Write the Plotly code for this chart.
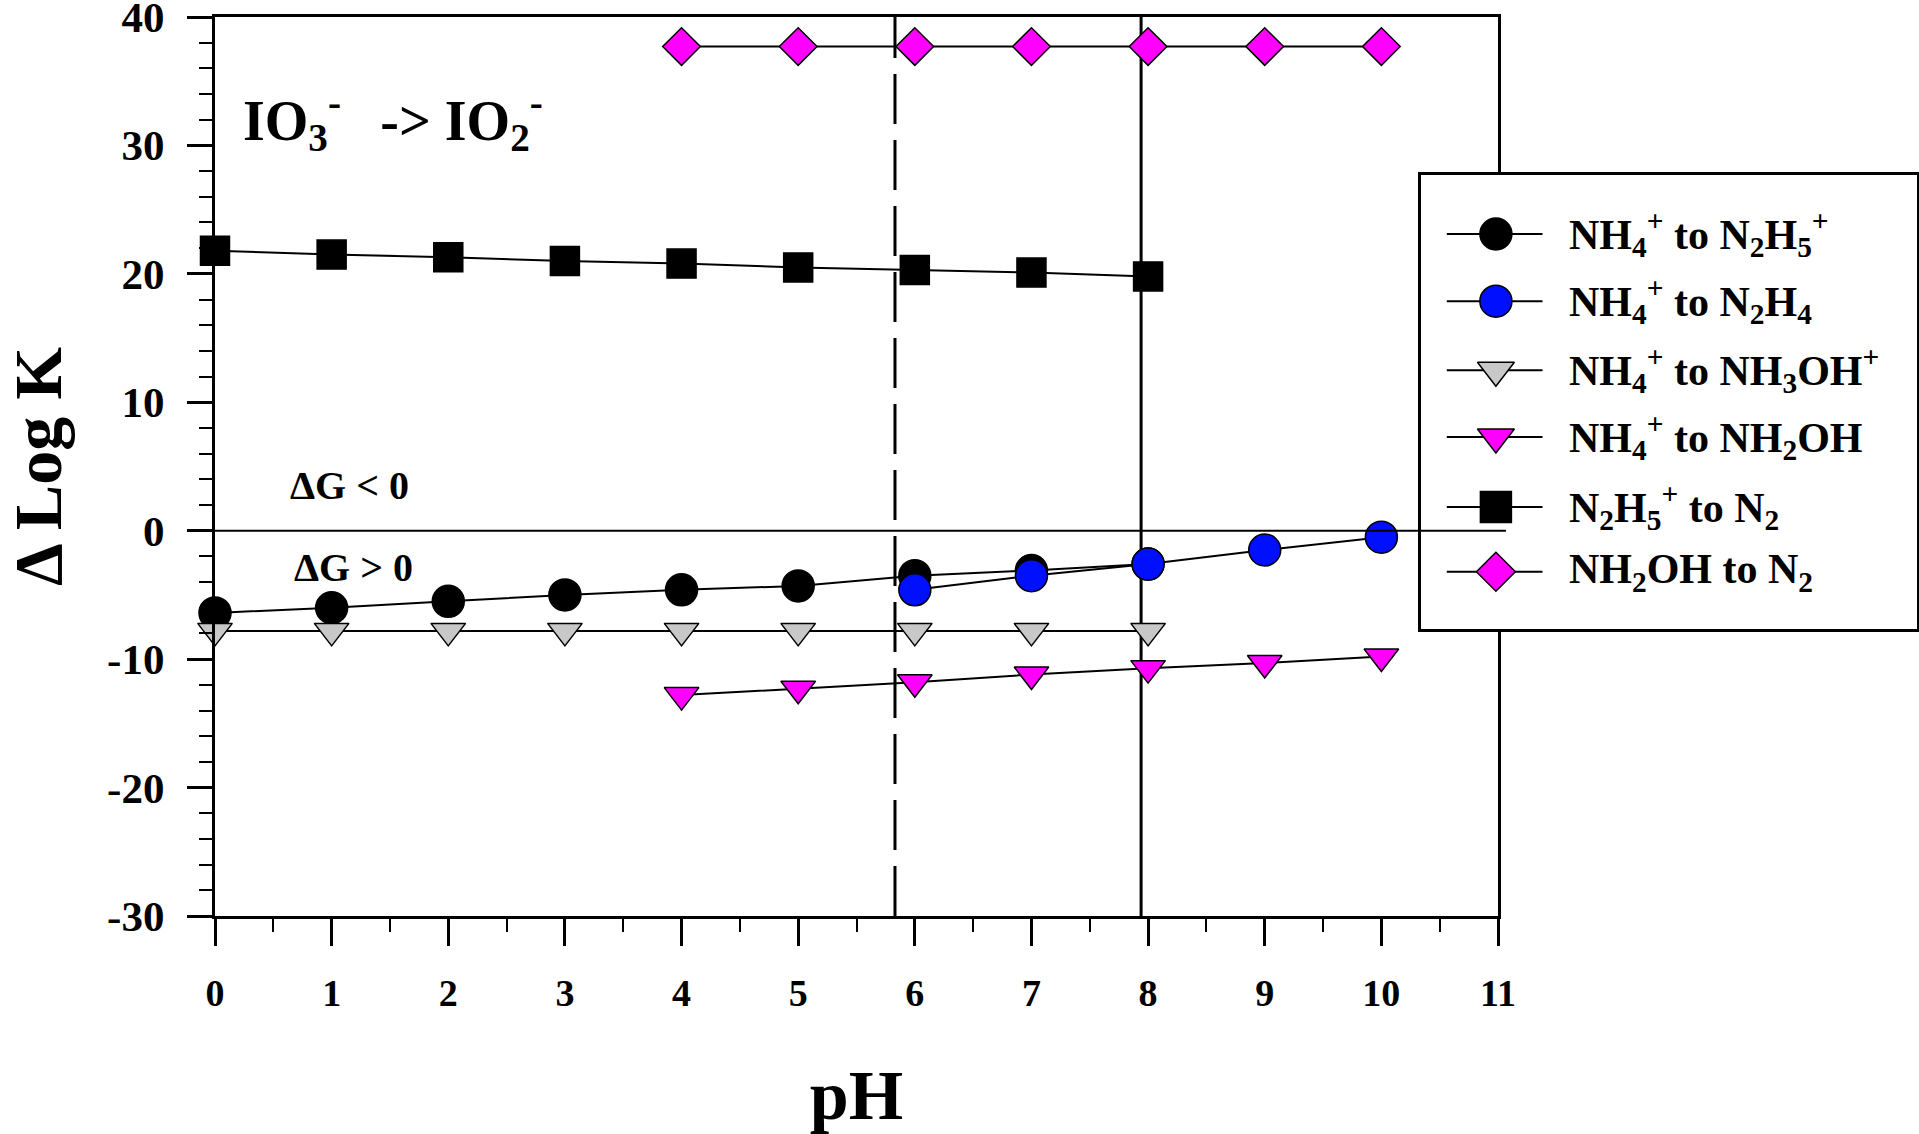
import plotly.graph_objects as go

# ---- data ----
ph_n2h5 = [0, 1, 2, 3, 4, 5, 6, 7, 8]
nh4_to_n2h5 = [-6.4, -6.0, -5.5, -5.0, -4.6, -4.3, -3.5, -3.1, -2.6]

ph_n2h4 = [6, 7, 8, 9, 10]
nh4_to_n2h4 = [-4.6, -3.5, -2.6, -1.5, -0.5]

ph_nh3oh = [0, 1, 2, 3, 4, 5, 6, 7, 8]
nh4_to_nh3oh = [-7.8, -7.8, -7.8, -7.8, -7.8, -7.8, -7.8, -7.8, -7.8]

ph_nh2oh = [4, 5, 6, 7, 8, 9, 10]
nh4_to_nh2oh = [-12.8, -12.3, -11.8, -11.2, -10.7, -10.3, -9.8]

ph_n2h5_n2 = [0, 1, 2, 3, 4, 5, 6, 7, 8]
n2h5_to_n2 = [21.8, 21.5, 21.3, 21.0, 20.8, 20.5, 20.3, 20.1, 19.8]

ph_nh2oh_n2 = [4, 5, 6, 7, 8, 9, 10]
nh2oh_to_n2 = [37.7, 37.7, 37.7, 37.7, 37.7, 37.7, 37.7]

names = [
    "NH<sub>4</sub><sup>+</sup> to N<sub>2</sub>H<sub>5</sub><sup>+</sup>",
    "NH<sub>4</sub><sup>+</sup> to N<sub>2</sub>H<sub>4</sub>",
    "NH<sub>4</sub><sup>+</sup> to NH<sub>3</sub>OH<sup>+</sup>",
    "NH<sub>4</sub><sup>+</sup> to NH<sub>2</sub>OH",
    "N<sub>2</sub>H<sub>5</sub><sup>+</sup> to N<sub>2</sub>",
    "NH<sub>2</sub>OH to N<sub>2</sub>",
]

dashed_ph = 5.83
solid_ph = 7.94

x_ticks = list(range(0, 12))
y_ticks = list(range(-30, 41, 10))

FONT = "Liberation Serif"

# symbol, fill colour, marker size (plot), marker size (legend)
styles = [
    ("circle", "black", 32, 32),
    ("circle", "#0010ff", 32, 32),
    ("triangle-down", "#c8c8c8", 30, 32),
    ("triangle-down", "#ff00ff", 30, 32),
    ("square", "black", 29, 31),
    ("diamond", "#ff00ff", 29, 30),
]
series = [
    (ph_n2h5, nh4_to_n2h5),
    (ph_n2h4, nh4_to_n2h4),
    (ph_nh3oh, nh4_to_nh3oh),
    (ph_nh2oh, nh4_to_nh2oh),
    (ph_n2h5_n2, n2h5_to_n2),
    (ph_nh2oh_n2, nh2oh_to_n2),
]

fig = go.Figure()

for (xs, ys), nm, (sym, col, sz, _) in zip(series, names, styles):
    fig.add_trace(go.Scatter(
        x=xs, y=ys, name=nm, mode="lines+markers",
        xaxis="x", yaxis="y",
        line=dict(color="black", width=2),
        marker=dict(symbol=sym, color=col, size=sz,
                    line=dict(color="black", width=1.5)),
        cliponaxis=False, showlegend=False,
    ))

# ---- hand-built legend box in its own small axes ----
leg_rows = [0.870, 0.722, 0.570, 0.423, 0.269, 0.126]
leg_line_x = [0.052, 0.245]
leg_mark_x = 0.151
leg_text_x = 0.294

fig.add_shape(type="rect", xref="x2 domain", yref="y2 domain",
              x0=0, x1=1, y0=0, y1=1, fillcolor="white",
              line=dict(width=0), layer="below")

for ry, nm, (sym, col, _, lsz) in zip(leg_rows, names, styles):
    fig.add_trace(go.Scatter(
        x=leg_line_x, y=[ry, ry], xaxis="x2", yaxis="y2", mode="lines",
        line=dict(color="black", width=2), showlegend=False, hoverinfo="skip",
    ))
    fig.add_trace(go.Scatter(
        x=[leg_mark_x], y=[ry], xaxis="x2", yaxis="y2", mode="markers",
        marker=dict(symbol=sym, color=col, size=lsz,
                    line=dict(color="black", width=1.5)),
        showlegend=False, hoverinfo="skip", cliponaxis=False,
    ))
    fig.add_annotation(x=leg_text_x, y=ry, xref="x2", yref="y2",
                       xanchor="left", yanchor="middle", text=nm,
                       showarrow=False,
                       font=dict(family=FONT, size=42, color="black", weight="bold"))

# reference lines
fig.add_shape(type="line", xref="paper", yref="y", x0=0, x1=0.7585, y0=0, y1=0,
              line=dict(color="black", width=2), layer="above")
fig.add_shape(type="line", xref="x", yref="y", x0=dashed_ph, x1=dashed_ph,
              y0=-30, y1=40, line=dict(color="black", width=3, dash="50px,16px"),
              layer="below")
fig.add_shape(type="line", xref="x", yref="y", x0=solid_ph, x1=solid_ph,
              y0=-30, y1=40, line=dict(color="black", width=3), layer="below")

# text labels
fig.add_annotation(x=0.22, y=32.0, xref="x", yref="y", xanchor="left",
                   text="IO<sub>3</sub><sup>-</sup>  \u2009-> IO<sub>2</sub><sup>-</sup>",
                   showarrow=False,
                   font=dict(family=FONT, size=56, color="black", weight="bold"))
fig.add_annotation(x=0.626, y=3.5, xref="x", yref="y", xanchor="left",
                   text="ΔG < 0", showarrow=False,
                   font=dict(family=FONT, size=40, color="black", weight="bold"))
fig.add_annotation(x=0.66, y=-2.9, xref="x", yref="y", xanchor="left",
                   text="ΔG > 0", showarrow=False,
                   font=dict(family=FONT, size=40, color="black", weight="bold"))

fig.update_layout(
    width=1919, height=1134,
    margin=dict(l=215, r=2, t=17, b=218, autoexpand=False),
    paper_bgcolor="white", plot_bgcolor="white",
    font=dict(family=FONT, color="black", weight="bold"),
    showlegend=False,
    xaxis=dict(
        domain=[0, 0.75382], anchor="y", automargin=False,
        range=[0, 11], tickvals=x_ticks, ticktext=[str(v) for v in x_ticks],
        ticks="outside", ticklen=27, tickwidth=2.5, tickcolor="black",
        minor=dict(dtick=0.5, ticks="outside", ticklen=13, tickwidth=2,
                   tickcolor="black"),
        showline=True, linecolor="black", linewidth=3, mirror=True,
        showgrid=False, zeroline=False,
        tickfont=dict(family=FONT, size=38, color="black", weight="bold"),
        ticklabelstandoff=14,
        title=dict(text="pH", standoff=58,
                   font=dict(family=FONT, size=70, color="black", weight="bold")),
    ),
    yaxis=dict(
        domain=[0, 1], anchor="x", automargin=False,
        range=[-30, 40], tickvals=y_ticks, ticktext=[str(v) for v in y_ticks],
        ticks="outside", ticklen=25, tickwidth=2.5, tickcolor="black",
        minor=dict(dtick=2, ticks="outside", ticklen=13, tickwidth=2,
                   tickcolor="black"),
        showline=True, linecolor="black", linewidth=3, mirror=True,
        showgrid=False, zeroline=False, ticklabeloverflow="allow",
        tickfont=dict(family=FONT, size=43, color="black", weight="bold"),
        ticklabelstandoff=14,
        title=dict(text="Δ Log K", standoff=69,
                   font=dict(family=FONT, size=68, color="black", weight="bold")),
    ),
    xaxis2=dict(domain=[0.70858, 1.0], anchor="y2", range=[0, 1], automargin=False,
                showline=True, mirror=True, linecolor="black", linewidth=2.5,
                ticks="", showticklabels=False, showgrid=False, zeroline=False),
    yaxis2=dict(domain=[0.31924, 0.82425], anchor="x2", range=[0, 1], automargin=False,
                showline=True, mirror=True, linecolor="black", linewidth=2.5,
                ticks="", showticklabels=False, showgrid=False, zeroline=False),
)

fig.write_html("out.html",
               config={"displayModeBar": False},
               post_script="document.body.style.margin='0';")
